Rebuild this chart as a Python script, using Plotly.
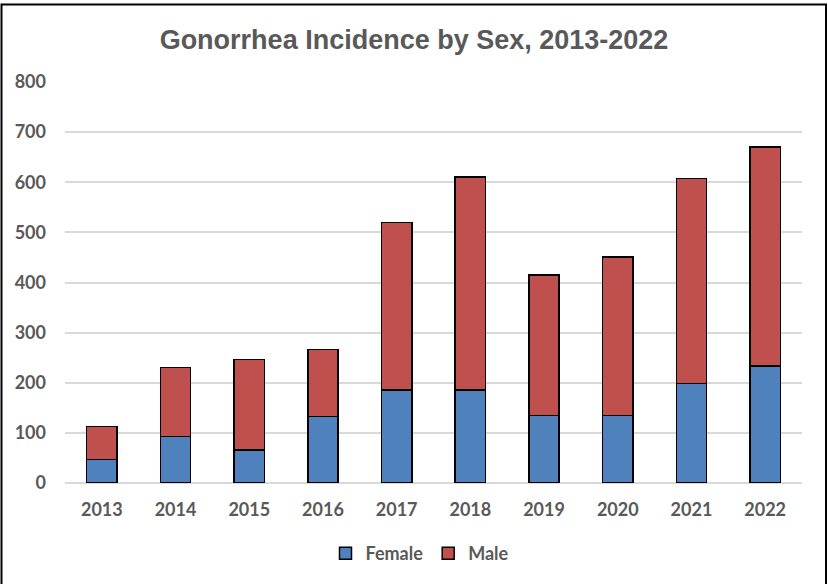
import plotly.graph_objects as go

years = ["2013", "2014", "2015", "2016", "2017", "2018", "2019", "2020", "2021", "2022"]
female = [47, 93, 66, 133, 186, 186, 135, 135, 199, 233]
male = [66, 137, 180, 133, 334, 424, 280, 316, 408, 437]
y_ticks = [0, 100, 200, 300, 400, 500, 600, 700, 800]

W, H = 828, 584
L, R, T, B = 65, 26, 82, 99
pw, ph = W - L - R, H - T - B

GRAY = "#595959"

fig = go.Figure()
fig.add_trace(go.Bar(x=years, y=female, name="Female",
                     marker=dict(color="#4F81BD", line=dict(color="#000000", width=1.5))))
fig.add_trace(go.Bar(x=years, y=male, name="Male",
                     marker=dict(color="#C0504D", line=dict(color="#000000", width=1.5))))

def px_x(p):
    return (p - L) / pw

def px_y(p):
    return (H - B - p) / ph

fig.add_shape(type="rect", xref="paper", yref="paper",
              x0=px_x(1.5), x1=px_x(826), y0=px_y(600), y1=px_y(4),
              line=dict(color="#000000", width=2), fillcolor="rgba(0,0,0,0)", layer="below")

tickfont = dict(size=18, color=GRAY, family="Lato", weight="bold")

fig.update_layout(
    width=W, height=H,
    margin=dict(l=L, r=R, t=T, b=B, pad=0),
    paper_bgcolor="white", plot_bgcolor="white",
    barmode="stack", bargap=0.59,
    title=dict(text="Gonorrhea Incidence by Sex, 2013-2022",
               x=0.5, xref="container", xanchor="center", y=1 - 40 / H, yanchor="middle",
               font=dict(family="Liberation Sans, Arial", size=27, color=GRAY, weight="bold")),
    font=dict(family="Lato, sans-serif", color=GRAY),
    legend=dict(orientation="h", x=px_x(420), xanchor="center", y=px_y(556), yanchor="middle",
                font=dict(size=18, color=GRAY, family="Lato", weight="bold"),
                traceorder="normal", itemwidth=30),
    xaxis=dict(showgrid=False, showline=False, ticks="", zeroline=False,
               tickfont=tickfont, ticklabelstandoff=14),
    yaxis=dict(range=[0, 800], tickvals=y_ticks, showgrid=True, gridcolor="#D9D9D9", gridwidth=1.5,
               zeroline=True, zerolinecolor="#D9D9D9", zerolinewidth=1.5, showline=False, ticks="",
               tickfont=tickfont, ticklabelstandoff=18),
)
fig.write_html("out.html", config={"displayModeBar": False},
               post_script="document.body.style.margin='0';")
